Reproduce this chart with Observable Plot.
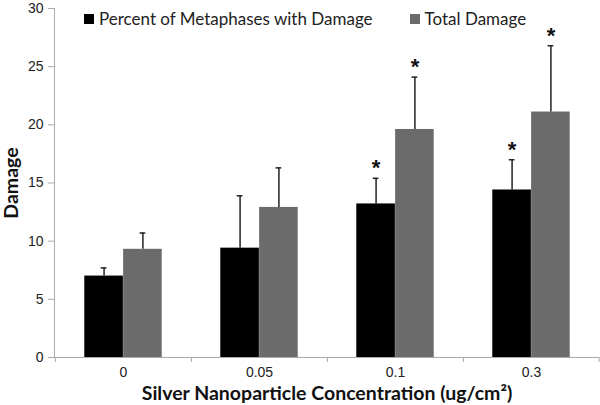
<!DOCTYPE html>
<html>
<head>
<meta charset="utf-8">
<script src="https://cdn.jsdelivr.net/npm/d3@7"></script>
<script src="https://cdn.jsdelivr.net/npm/@observablehq/plot@0.6"></script>
<style>
  html, body { margin: 0; padding: 0; background: #fff; }
  #wrap { position: relative; width: 600px; height: 405px; }
  #legend { position: absolute; top: 8px; left: 84px; font-family: Lato, "Open Sans", sans-serif; font-size: 17px; color: #222; display: flex; align-items: center; white-space: nowrap; }
  #legend .sw { display: inline-block; width: 10px; height: 10px; margin-right: 5px; }
  #legend .item { display: flex; align-items: center; margin-right: 37px; }
</style>
</head>
<body>
<div id="wrap"></div>
<script>
const concentrations = ["0", "0.05", "0.1", "0.3"];
const seriesNames = ["Percent of Metaphases with Damage", "Total Damage"];
const seriesColors = ["#000000", "#6b6b6b"];
const percentMeta = [7.0, 9.4, 13.2, 14.4];
const percentErr = [0.7, 4.5, 2.2, 2.6];
const totalDamage = [9.3, 12.9, 19.6, 21.1];
const totalErr = [1.4, 3.4, 4.5, 5.7];
const percentSig = [false, false, true, true];
const totalSig = [false, false, true, true];
const yTicks = [0, 5, 10, 15, 20, 25, 30];
const xTitle = "Silver Nanoparticle Concentration (ug/cm²)";
const yTitle = "Damage";

const W = 600, H = 405;
const mL = 54, mR = 1, mT = 8, mB = 48;
const bw = (W - mL - mR) / concentrations.length;
const barW = bw * 0.285;
const outer = bw / 2 - barW;

const rows = [];
concentrations.forEach((c, i) => {
  rows.push({conc: c, series: 0, value: percentMeta[i], err: percentErr[i], sig: percentSig[i]});
  rows.push({conc: c, series: 1, value: totalDamage[i], err: totalErr[i], sig: totalSig[i]});
});
const bySeries = s => rows.filter(r => r.series === s);

const marks = [];
[0, 1].forEach(s => {
  const d = bySeries(s);
  const left = s === 0 ? outer : outer + barW;
  const center = left + barW / 2;
  const dx = center - bw / 2;
  marks.push(Plot.barY(d, {x: "conc", y: "value", fill: seriesColors[s], insetLeft: left, insetRight: bw - left - barW}));
  marks.push(Plot.ruleX(d, {x: "conc", y1: "value", y2: r => r.value + r.err, stroke: "#222", strokeWidth: 1.5, dx}));
  marks.push(Plot.tickY(d, {x: "conc", y: r => r.value + r.err, stroke: "#222", strokeWidth: 1.5, insetLeft: center - 3, insetRight: bw - center - 3}));
  marks.push(Plot.text(d.filter(r => r.sig), {x: "conc", y: r => r.value + r.err, text: () => "*", dx, dy: -3, lineAnchor: "bottom", fontSize: 22, fontWeight: "bold", fill: "#111", fontFamily: "Liberation Sans, Arial, sans-serif"}));
});

const plot = Plot.plot({
  width: W, height: H,
  marginLeft: mL, marginRight: mR, marginTop: mT, marginBottom: mB,
  style: {fontFamily: "Liberation Sans, Arial, sans-serif", fontSize: "14px", color: "#222", background: "#fff"},
  x: {domain: concentrations, type: "band", padding: 0, axis: null},
  y: {domain: [0, 30], axis: null},
  marks: [
    ...marks,
    Plot.frame({anchor: "left", stroke: "#aaa"}),
    Plot.ruleY([0], {stroke: "#aaa"}),
    Plot.axisY({ticks: yTicks, tickSize: 6, tickPadding: 5, stroke: "#aaa", fontSize: 14, label: null}),
    Plot.axisX({tickSize: 0, tickPadding: 10, fontSize: 14, label: null}),
    Plot.axisX({tickSize: 5, tickFormat: () => "", dx: -bw / 2, stroke: "#aaa", label: null}),
    Plot.axisX({ticks: [concentrations[concentrations.length - 1]], tickSize: 5, tickFormat: () => "", dx: bw / 2 - 0.5, stroke: "#aaa", label: null}),
    Plot.text([xTitle], {frameAnchor: "bottom", dy: 42, text: d => d, fontSize: 19.5, fontWeight: "bold", fontFamily: "Lato, sans-serif", fill: "#111", lineAnchor: "bottom"}),
    Plot.text([yTitle], {frameAnchor: "left", dx: -43, rotate: -90, textAnchor: "middle", text: d => d, fontSize: 19.5, fontWeight: "bold", fontFamily: "Lato, sans-serif", fill: "#111"})
  ]
});

const wrap = document.getElementById("wrap");
wrap.appendChild(plot);
const legend = document.createElement("div");
legend.id = "legend";
seriesNames.forEach((n, i) => {
  const item = document.createElement("span");
  item.className = "item";
  const sw = document.createElement("span");
  sw.className = "sw";
  sw.style.background = seriesColors[i];
  item.appendChild(sw);
  item.appendChild(document.createTextNode(n));
  legend.appendChild(item);
});
wrap.appendChild(legend);
</script>
</body>
</html>
